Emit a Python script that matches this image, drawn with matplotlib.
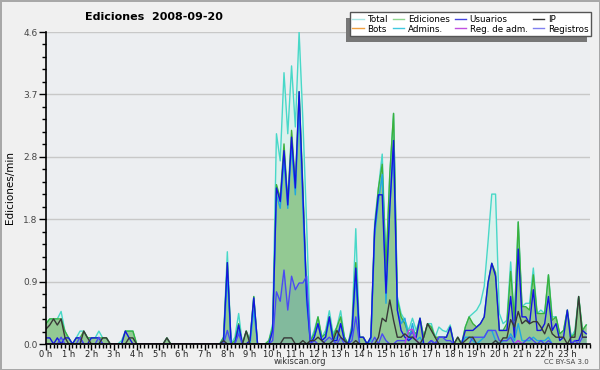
import matplotlib
matplotlib.use('Agg')
import matplotlib.pyplot as plt
from matplotlib.lines import Line2D
from matplotlib.patches import Rectangle
import numpy as np

titulo = 'Ediciones  2008-09-20'
eje_y = 'Ediciones/min'
horas = ['%d h' % h for h in range(24)]
ymax = 4.6

# valores cada 10 minutos (6 por hora)
total = [
    0.30, 0.37, 0.37, 0.37, 0.48, 0.19,  0.09, 0.00, 0.09, 0.19, 0.19, 0.09,
    0.09, 0.09, 0.19, 0.09, 0.09, 0.00,  0.00, 0.00, 0.05, 0.19, 0.19, 0.19,
    0.00, 0.00, 0.00, 0.00, 0.00, 0.00,  0.00, 0.00, 0.09, 0.00, 0.00, 0.00,
    0.00, 0.00, 0.00, 0.00, 0.00, 0.00,  0.00, 0.00, 0.00, 0.00, 0.00, 0.10,
    1.36, 0.00, 0.10, 0.45, 0.00, 0.19,  0.05, 0.70, 0.00, 0.00, 0.00, 0.05,
    0.30, 3.10, 2.70, 4.00, 3.10, 4.10,  3.20, 4.60, 3.30, 1.75, 0.05, 0.20,
    0.40, 0.10, 0.20, 0.49, 0.15, 0.25,  0.49, 0.10, 0.00, 0.30, 1.70, 0.10,
    0.10, 0.00, 0.10, 1.80, 2.30, 2.80,  1.15, 2.50, 3.40, 0.70, 0.45, 0.35,
    0.20, 0.38, 0.20, 0.38, 0.10, 0.30,  0.30, 0.10, 0.25, 0.20, 0.18, 0.28,
    0.00, 0.10, 0.00, 0.25, 0.40, 0.45,  0.50, 0.60, 0.85, 1.50, 2.21, 2.21,
    0.45, 0.30, 0.35, 1.21, 0.35, 1.80,  0.55, 0.60, 0.60, 1.12, 0.45, 0.50,
    0.45, 1.02, 0.40, 0.40, 0.15, 0.20,  0.50, 0.10, 0.20, 0.70, 0.20, 0.28,
]
ediciones = [
    0.30, 0.37, 0.37, 0.37, 0.37, 0.19,  0.09, 0.00, 0.09, 0.09, 0.19, 0.09,
    0.09, 0.09, 0.09, 0.09, 0.09, 0.00,  0.00, 0.00, 0.00, 0.19, 0.19, 0.19,
    0.00, 0.00, 0.00, 0.00, 0.00, 0.00,  0.00, 0.00, 0.09, 0.00, 0.00, 0.00,
    0.00, 0.00, 0.00, 0.00, 0.00, 0.00,  0.00, 0.00, 0.00, 0.00, 0.00, 0.10,
    1.20, 0.00, 0.05, 0.30, 0.00, 0.19,  0.05, 0.70, 0.00, 0.00, 0.00, 0.05,
    0.25, 2.35, 2.15, 2.95, 2.10, 3.15,  2.35, 3.72, 2.30, 0.75, 0.05, 0.15,
    0.40, 0.10, 0.15, 0.40, 0.10, 0.25,  0.40, 0.10, 0.00, 0.25, 1.20, 0.10,
    0.10, 0.00, 0.10, 1.70, 2.30, 2.65,  1.10, 2.50, 3.40, 0.65, 0.40, 0.30,
    0.15, 0.20, 0.15, 0.38, 0.10, 0.30,  0.25, 0.10, 0.10, 0.10, 0.10, 0.25,
    0.00, 0.10, 0.00, 0.25, 0.40, 0.30,  0.25, 0.30, 0.40, 0.90, 1.19, 1.05,
    0.20, 0.20, 0.30, 1.07, 0.35, 1.80,  0.55, 0.55, 0.50, 1.02, 0.45, 0.45,
    0.45, 1.02, 0.35, 0.40, 0.15, 0.20,  0.50, 0.10, 0.15, 0.70, 0.20, 0.28,
]
usuarios = [
    0.09, 0.09, 0.00, 0.09, 0.00, 0.09,  0.09, 0.00, 0.09, 0.09, 0.00, 0.00,
    0.09, 0.09, 0.09, 0.00, 0.00, 0.00,  0.00, 0.00, 0.00, 0.19, 0.09, 0.00,
    0.00, 0.00, 0.00, 0.00, 0.00, 0.00,  0.00, 0.00, 0.00, 0.00, 0.00, 0.00,
    0.00, 0.00, 0.00, 0.00, 0.00, 0.00,  0.00, 0.00, 0.00, 0.00, 0.00, 0.05,
    1.20, 0.00, 0.00, 0.28, 0.00, 0.00,  0.05, 0.68, 0.00, 0.00, 0.00, 0.00,
    0.20, 2.30, 2.10, 2.85, 2.05, 3.05,  2.30, 3.72, 2.20, 0.70, 0.00, 0.10,
    0.30, 0.05, 0.10, 0.40, 0.05, 0.05,  0.30, 0.05, 0.00, 0.20, 1.12, 0.10,
    0.10, 0.00, 0.10, 1.70, 2.20, 2.20,  0.75, 2.00, 3.00, 0.50, 0.20, 0.10,
    0.05, 0.10, 0.10, 0.38, 0.00, 0.00,  0.05, 0.00, 0.10, 0.10, 0.10, 0.25,
    0.00, 0.00, 0.00, 0.20, 0.20, 0.20,  0.25, 0.30, 0.40, 0.90, 1.19, 1.00,
    0.20, 0.20, 0.20, 0.70, 0.10, 1.40,  0.40, 0.40, 0.30, 0.80, 0.20, 0.20,
    0.30, 0.70, 0.20, 0.30, 0.05, 0.10,  0.50, 0.00, 0.05, 0.05, 0.20, 0.15,
]
ip = [
    0.22, 0.28, 0.37, 0.28, 0.37, 0.10,  0.00, 0.00, 0.00, 0.00, 0.19, 0.09,
    0.00, 0.00, 0.00, 0.09, 0.09, 0.00,  0.00, 0.00, 0.00, 0.00, 0.09, 0.09,
    0.00, 0.00, 0.00, 0.00, 0.00, 0.00,  0.00, 0.00, 0.09, 0.00, 0.00, 0.00,
    0.00, 0.00, 0.00, 0.00, 0.00, 0.00,  0.00, 0.00, 0.00, 0.00, 0.00, 0.05,
    0.00, 0.00, 0.00, 0.00, 0.00, 0.19,  0.00, 0.00, 0.00, 0.00, 0.00, 0.00,
    0.00, 0.00, 0.00, 0.09, 0.09, 0.09,  0.00, 0.00, 0.05, 0.00, 0.05, 0.05,
    0.10, 0.05, 0.00, 0.00, 0.05, 0.20,  0.10, 0.05, 0.00, 0.00, 0.05, 0.00,
    0.00, 0.00, 0.00, 0.00, 0.10, 0.38,  0.33, 0.65, 0.35, 0.10, 0.10, 0.15,
    0.10, 0.10, 0.05, 0.00, 0.10, 0.30,  0.20, 0.10, 0.00, 0.00, 0.00, 0.00,
    0.00, 0.10, 0.00, 0.05, 0.10, 0.10,  0.00, 0.00, 0.00, 0.00, 0.00, 0.05,
    0.00, 0.09, 0.09, 0.36, 0.25, 0.48,  0.30, 0.35, 0.30, 0.33, 0.33, 0.25,
    0.15, 0.30, 0.15, 0.10, 0.10, 0.10,  0.00, 0.10, 0.10, 0.70, 0.10, 0.10,
]
admins = [
    0.00, 0.00, 0.00, 0.00, 0.00, 0.00,  0.00, 0.00, 0.00, 0.00, 0.00, 0.00,
    0.00, 0.00, 0.00, 0.00, 0.00, 0.00,  0.00, 0.00, 0.00, 0.00, 0.00, 0.00,
    0.00, 0.00, 0.00, 0.00, 0.00, 0.00,  0.00, 0.00, 0.00, 0.00, 0.00, 0.00,
    0.00, 0.00, 0.00, 0.00, 0.00, 0.00,  0.00, 0.00, 0.00, 0.00, 0.00, 0.00,
    1.00, 0.00, 0.00, 0.20, 0.00, 0.00,  0.00, 0.50, 0.00, 0.00, 0.00, 0.00,
    0.20, 2.20, 2.00, 2.70, 2.00, 2.90,  2.20, 3.50, 2.00, 0.60, 0.00, 0.10,
    0.30, 0.05, 0.10, 0.35, 0.05, 0.10,  0.30, 0.05, 0.00, 0.15, 1.00, 0.00,
    0.00, 0.00, 0.05, 1.60, 2.10, 2.50,  0.60, 2.00, 2.90, 0.50, 0.30, 0.38,
    0.05, 0.30, 0.05, 0.10, 0.00, 0.00,  0.00, 0.00, 0.00, 0.00, 0.00, 0.00,
    0.00, 0.00, 0.00, 0.10, 0.10, 0.05,  0.00, 0.05, 0.10, 0.20, 0.20, 0.05,
    0.00, 0.05, 0.05, 0.15, 0.05, 0.30,  0.05, 0.05, 0.05, 0.10, 0.05, 0.05,
    0.05, 0.10, 0.00, 0.00, 0.00, 0.00,  0.00, 0.00, 0.00, 0.00, 0.00, 0.00,
]
registros = [
    0.00, 0.00, 0.00, 0.00, 0.10, 0.00,  0.00, 0.00, 0.00, 0.10, 0.00, 0.00,
    0.00, 0.00, 0.10, 0.00, 0.00, 0.00,  0.00, 0.00, 0.00, 0.00, 0.00, 0.00,
    0.00, 0.00, 0.00, 0.00, 0.00, 0.00,  0.00, 0.00, 0.00, 0.00, 0.00, 0.00,
    0.00, 0.00, 0.00, 0.00, 0.00, 0.00,  0.00, 0.00, 0.00, 0.00, 0.00, 0.00,
    0.20, 0.00, 0.00, 0.15, 0.00, 0.00,  0.00, 0.00, 0.00, 0.00, 0.00, 0.00,
    0.05, 0.77, 0.63, 1.09, 0.50, 1.00,  0.80, 0.90, 0.90, 1.00, 0.00, 0.05,
    0.00, 0.00, 0.05, 0.10, 0.05, 0.00,  0.10, 0.00, 0.00, 0.05, 0.40, 0.00,
    0.00, 0.00, 0.00, 0.10, 0.00, 0.15,  0.05, 0.00, 0.00, 0.05, 0.05, 0.05,
    0.10, 0.18, 0.05, 0.00, 0.00, 0.00,  0.05, 0.00, 0.10, 0.10, 0.05, 0.05,
    0.00, 0.00, 0.00, 0.00, 0.00, 0.10,  0.10, 0.10, 0.10, 0.20, 0.20, 0.20,
    0.05, 0.05, 0.05, 0.10, 0.00, 0.05,  0.00, 0.05, 0.10, 0.05, 0.00, 0.05,
    0.00, 0.05, 0.00, 0.00, 0.00, 0.00,  0.00, 0.00, 0.05, 0.00, 0.10, 0.10,
]
reg_adm = [0.0] * 96 + [0.20, 0.22, 0.05] + [0.0] * 26 + [0.05] + [0.0] * 18

# (etiqueta, color en la leyenda)
series = [
    ('Total', '#a8e6e4'), ('Ediciones', '#8ed68e'), ('Usuarios', '#4444e0'), ('IP', '#333333'),
    ('Bots', '#f0a040'), ('Admins.', '#40c8e0'), ('Reg. de adm.', '#c050e0'), ('Registros', '#8080f0'),
]

x = np.arange(len(total))

fig = plt.figure(figsize=(6, 3.7), dpi=100, facecolor='#f0f0f0', edgecolor='#a8a8a8', linewidth=2)
ax = fig.add_axes([46 / 600, 26 / 370, 544 / 600, 312 / 370], facecolor='#eceef1')

# areas
ax.fill_between(x, 0, total, color='#dcf1ed', lw=0)
ax.fill_between(x, 0, ediciones, color='#93c993', lw=0)
ax.fill_between(x, 0, registros, color='#3a7ad0', alpha=0.18, lw=0)

# lineas
ax.plot(x, total, c='#48d8c8', lw=1)
ax.plot(x, ediciones, c='#3cb03c', lw=1)
ax.plot(x, admins, c='#20a8e0', lw=1)
ax.plot(x, usuarios, c='#1414e0', lw=1)
ax.plot(x, registros, c='#4a4af4', lw=1)
ax.plot(x, reg_adm, c='#c040e0', lw=1)
ax.plot(x, ip, c='#383838', lw=1)

ax.set_xlim(0, 144)
ax.set_ylim(0, ymax)
ax.set_xticks(np.arange(0, 144, 6))
ax.set_xticklabels(horas)
ax.set_xticks(np.arange(0, 145, 1), minor=True)
yt = np.linspace(0, ymax, 6)
ax.set_yticks(yt)
ax.set_yticklabels(['%.1f' % v for v in yt])
ax.set_yticks(np.linspace(0, ymax, 26), minor=True)
ax.yaxis.grid(True, color='#c8c8c8', lw=1)
ax.set_axisbelow(True)
for s in ['top', 'right']:
    ax.spines[s].set_visible(False)
for s in ['left', 'bottom']:
    ax.spines[s].set_color('black')
    ax.spines[s].set_linewidth(1.2)
ax.tick_params(axis='x', which='major', length=4, width=1, pad=0, labelsize=6, labelcolor='#222')
ax.tick_params(axis='x', which='minor', length=3, width=1)
ax.tick_params(axis='y', which='major', length=5, width=1, pad=1, labelsize=6.5, labelcolor='#444')
ax.tick_params(axis='y', which='minor', length=3, width=1)

# leyenda, rellenada por columnas
orden = [0, 4, 1, 5, 2, 6, 3, 7]
handles = [Line2D([], [], color=series[i][1], lw=1) for i in orden]
labels = [series[i][0] for i in orden]
leg = fig.legend(handles, labels, ncol=4, loc='upper right', bbox_to_anchor=(591 / 600, 1 - 12 / 370),
                 fontsize=6.3, frameon=True, fancybox=False, edgecolor='#555555', framealpha=1,
                 handlelength=1.3, handletextpad=0.4, columnspacing=0.6, labelspacing=0.1,
                 borderpad=0.3, borderaxespad=0)
leg.get_frame().set_linewidth(1)
fig.canvas.draw()
bb = leg.get_window_extent()
fig.add_artist(Rectangle(((bb.x0 - 4) / 600, (bb.y0 - 6) / 370), bb.width / 600, bb.height / 370,
                         transform=fig.transFigure, facecolor='#777777', edgecolor='none', zorder=leg.get_zorder() - 1))

fig.text(154 / 600, 1 - 17 / 370, titulo, ha='center', va='center', fontsize=8, fontweight='bold')
fig.text(10 / 600, 1 - 188 / 370, eje_y, rotation=90, ha='center', va='center', fontsize=7.5)
fig.text(300 / 600, 1 - 362 / 370, 'wikiscan.org', ha='center', va='center', fontsize=6, color='#333')
fig.text(589 / 600, 1 - 362 / 370, 'CC BY-SA 3.0', ha='right', va='center', fontsize=5, color='#444')

fig.savefig('out.png', dpi=100)
